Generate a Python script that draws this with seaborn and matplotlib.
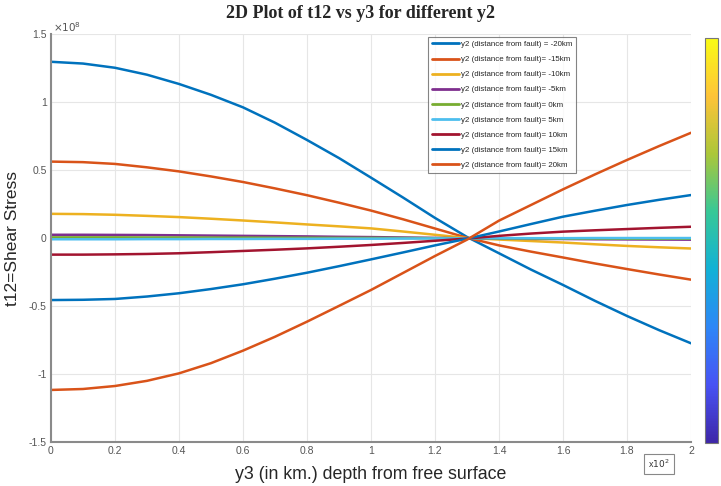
import numpy as np
import pandas as pd
import matplotlib
matplotlib.use("Agg")
import matplotlib.pyplot as plt
from matplotlib.colors import LinearSegmentedColormap
from matplotlib.cm import ScalarMappable
import seaborn as sns

# depth y3 in units of 10^2 km, stress t12 in units of 10^8
y3 = [0.0, 0.1, 0.2, 0.3, 0.4, 0.5, 0.6, 0.7, 0.8, 0.9, 1.0,
      1.1, 1.2, 1.3, 1.4, 1.5, 1.6, 1.7, 1.8, 1.9, 2.0]

y2_labels = ["y2 (distance from fault) = -20km", "y2 (distance from fault)= -15km",
             "y2 (distance from fault)= -10km", "y2 (distance from fault)= -5km",
             "y2 (distance from fault)= 0km", "y2 (distance from fault)= 5km",
             "y2 (distance from fault)= 10km", "y2 (distance from fault)= 15km",
             "y2 (distance from fault)= 20km"]

t12_m20 = [1.298, 1.285, 1.254, 1.203, 1.135, 1.055, 0.963, 0.850, 0.723, 0.590, 0.446,
           0.300, 0.150, 0.010, -0.110, -0.230, -0.343, -0.460, -0.571, -0.675, -0.772]
t12_m15 = [0.564, 0.560, 0.547, 0.522, 0.492, 0.455, 0.414, 0.367, 0.317, 0.262, 0.204,
           0.140, 0.072, 0.004, -0.052, -0.098, -0.141, -0.185, -0.226, -0.266, -0.304]
t12_m10 = [0.180, 0.178, 0.173, 0.165, 0.156, 0.144, 0.131, 0.117, 0.102, 0.088, 0.073,
           0.050, 0.026, 0.002, -0.009, -0.020, -0.031, -0.044, -0.056, -0.066, -0.075]
t12_m5 = [0.026, 0.026, 0.025, 0.024, 0.022, 0.020, 0.018, 0.016, 0.014, 0.011, 0.009,
          0.006, 0.003, 0.000, -0.002, -0.004, -0.005, -0.007, -0.008, -0.009, -0.010]
t12_0 = [0.007, 0.007, 0.007, 0.006, 0.006, 0.005, 0.005, 0.004, 0.004, 0.003, 0.003,
         0.002, 0.001, 0.000, -0.001, -0.001, -0.002, -0.002, -0.003, -0.003, -0.003]
t12_p5 = [-0.007, -0.007, -0.007, -0.006, -0.006, -0.005, -0.005, -0.004, -0.004, -0.003, -0.003,
          -0.002, -0.001, 0.000, 0.001, 0.001, 0.001, 0.002, 0.002, 0.002, 0.002]
t12_p10 = [-0.120, -0.120, -0.118, -0.115, -0.110, -0.102, -0.093, -0.084, -0.074, -0.062, -0.049,
           -0.034, -0.018, -0.002, 0.018, 0.035, 0.049, 0.059, 0.068, 0.077, 0.085]
t12_p15 = [-0.454, -0.452, -0.446, -0.428, -0.404, -0.373, -0.338, -0.297, -0.253, -0.205, -0.155,
           -0.104, -0.052, -0.003, 0.050, 0.105, 0.159, 0.203, 0.245, 0.283, 0.318]
t12_p20 = [-1.115, -1.108, -1.086, -1.048, -0.993, -0.918, -0.826, -0.724, -0.613, -0.497, -0.380,
           -0.255, -0.130, -0.010, 0.130, 0.245, 0.360, 0.470, 0.576, 0.678, 0.776]

series = [t12_m20, t12_m15, t12_m10, t12_m5, t12_0, t12_p5, t12_p10, t12_p15, t12_p20]

# MATLAB default line order
line_colors = ["#0072BD", "#D95319", "#EDB120", "#7E2F8E", "#77AC30",
               "#4DBEEE", "#A2142F", "#0072BD", "#D95319"]

# long-form table for seaborn
df = pd.concat([pd.DataFrame({"y3": y3, "t12": vals, "y2": lab})
                for lab, vals in zip(y2_labels, series)], ignore_index=True)

sns.set_style("white")
plt.rcParams["font.family"] = ["Liberation Sans", "DejaVu Sans"]

fig = plt.figure(figsize=(7.21, 4.86), dpi=100)
ax = fig.add_axes([0.0707, 0.0899, 0.8877, 0.8395])

sns.lineplot(data=df, x="y3", y="t12", hue="y2", hue_order=y2_labels,
             palette=line_colors, linewidth=1.8, ax=ax, sort=False)

ax.set_xlim(0, 2)
ax.set_ylim(-1.5, 1.5)
ax.set_xticks(np.arange(0, 2.01, 0.2))
ax.set_xticklabels(["0", "0.2", "0.4", "0.6", "0.8", "1", "1.2", "1.4", "1.6", "1.8", "2"])
ax.set_yticks(np.arange(-1.5, 1.51, 0.5))
ax.set_yticklabels(["-1.5", "-1", "-0.5", "0", "0.5", "1", "1.5"])
ax.tick_params(axis="both", direction="in", length=4, width=0.8, color="#8a8a8a",
               labelsize=7.5, labelcolor="#555555", pad=3)
ax.grid(True, color="#e6e6e6", linewidth=0.8)
for side in ["top", "right"]:
    ax.spines[side].set_visible(False)
for side in ["left", "bottom"]:
    ax.spines[side].set_color("#8a8a8a")
    ax.spines[side].set_linewidth(1.5)

ax.set_xlabel("y3 (in km.) depth from free surface", fontsize=12.8, labelpad=7)
ax.set_ylabel("t12=Shear Stress", fontsize=12.5, labelpad=6)
fig.text(0.5, 0.972, "2D Plot of t12 vs y3 for different y2", ha="center", va="center",
         fontsize=13, fontweight="bold", family=["Liberation Serif", "DejaVu Serif"])

# exponent labels
fig.text(0.073, 0.945, r"$\times10^{8}$", fontsize=7.5, color="#555555", va="center")
fig.text(0.899, 0.045, r"x$10^{2}$", fontsize=6.5, color="#333333", va="center",
         bbox=dict(boxstyle="square,pad=0.45", fc="white", ec="#888888", lw=0.8))

leg = ax.legend(loc="upper left", bbox_to_anchor=(0.589, 0.994), fontsize=5.7,
                frameon=True, fancybox=False, handlelength=3.4, labelspacing=0.95,
                borderpad=0.5, handletextpad=0.25, borderaxespad=0)
leg.get_frame().set_edgecolor("#666666")
leg.get_frame().set_linewidth(0.8)
for line in leg.get_lines():
    line.set_linewidth(2)

# parula-like colourbar
parula = LinearSegmentedColormap.from_list("parula", [
    (0.2422, 0.1504, 0.6603), (0.2810, 0.3228, 0.9579), (0.1786, 0.5289, 0.9682),
    (0.0689, 0.6948, 0.8394), (0.2161, 0.7843, 0.5923), (0.6720, 0.7793, 0.2227),
    (0.9970, 0.7659, 0.2199), (0.9769, 0.9839, 0.0805)])
cax = fig.add_axes([0.978, 0.088, 0.018, 0.834])
cb = fig.colorbar(ScalarMappable(cmap=parula), cax=cax)
cb.set_ticks(np.arange(0.1, 1.0, 0.1))
cb.ax.tick_params(direction="in", length=3, color="#555555", labelright=False)
cb.outline.set_edgecolor("#777777")

plt.savefig("out.png", dpi=100)
plt.close()
